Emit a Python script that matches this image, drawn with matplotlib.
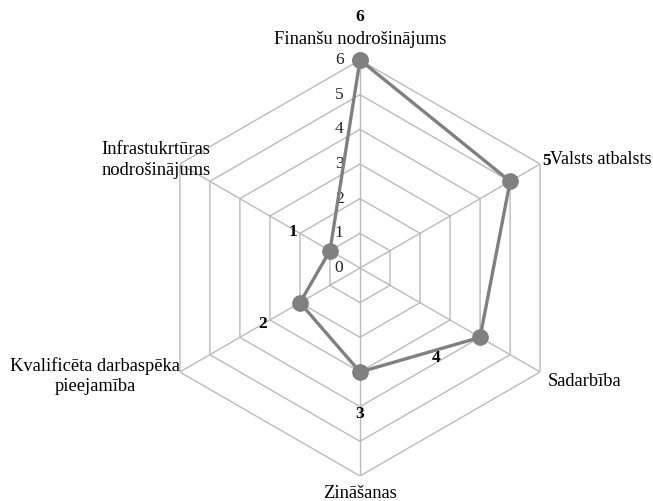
import numpy as np
import matplotlib.pyplot as plt

plt.rcParams['font.family'] = ['Liberation Serif', 'DejaVu Serif']

categories = ['Finanšu nodrošinājums', 'Valsts atbalsts', 'Sadarbība', 'Zināšanas',
              'Kvalificēta darbaspēka\npieejamība', 'Infrastukrtūras\nnodrošinājums']
values = [6, 5, 4, 3, 2, 1]
levels = [0, 1, 2, 3, 4, 5, 6]

# where the bold value labels sit (angle in deg clockwise from top, radius in data units)
label_ang = [0, 60, 140, 180, 240, 298]
label_r = [7.25, 6.2, 3.4, 4.2, 3.25, 2.2]

n = len(categories)
theta = np.arange(n) * 2 * np.pi / n
closed = np.append(theta, theta[0])

fig = plt.figure(figsize=(6.53, 5.01), dpi=100)
ax = fig.add_axes([152 / 653, 25 / 501, 416 / 653, 416 / 501], projection='polar')
ax.set_theta_offset(np.pi / 2)
ax.set_theta_direction(-1)
ax.set_ylim(0, 6)
ax.grid(False)
ax.set_xticks([])
ax.set_yticks([])
ax.spines['polar'].set_visible(False)
ax.patch.set_visible(False)

grid_col = '#bababa'
for lv in levels[1:]:
    ax.plot(closed, [lv] * (n + 1), color=grid_col, lw=1.0, zorder=1)
for t in theta:
    ax.plot([t, t], [0, levels[-1]], color=grid_col, lw=1.0, zorder=1)

# radial tick labels
for lv in levels:
    ax.annotate(str(lv), xy=(0, lv), xytext=(-15, 0), textcoords='offset points',
                ha='center', va='center', fontsize=12.5, color='#222222')

ax.plot(closed, np.append(values, values[0]), color='#808080', lw=2.4,
        marker='o', markersize=11, zorder=3, clip_on=False)

# value labels
for v, a, r in zip(values, label_ang, label_r):
    ax.text(np.deg2rad(a), r, str(v), ha='center', va='center', fontsize=12.5,
            fontweight='bold', color='black')

# category labels (figure pixel positions)
fs = 13.3
fig.text(360 / 653, 1 - 40 / 501, categories[0], ha='center', va='center', fontsize=fs)
fig.text(651 / 653, 1 - 159 / 501, categories[1], ha='right', va='center', fontsize=13)
fig.text(548 / 653, 1 - 381 / 501, categories[2], ha='left', va='center', fontsize=fs)
fig.text(360 / 653, 1 - 493 / 501, categories[3], ha='center', va='center', fontsize=fs)
fig.text(95 / 653, 1 - 376 / 501, categories[4], ha='center', va='center', fontsize=fs,
         multialignment='center', linespacing=1.25)
fig.text(156 / 653, 1 - 160 / 501, categories[5], ha='center', va='center', fontsize=fs,
         multialignment='center', linespacing=1.25)

fig.savefig('out.png', dpi=100)
